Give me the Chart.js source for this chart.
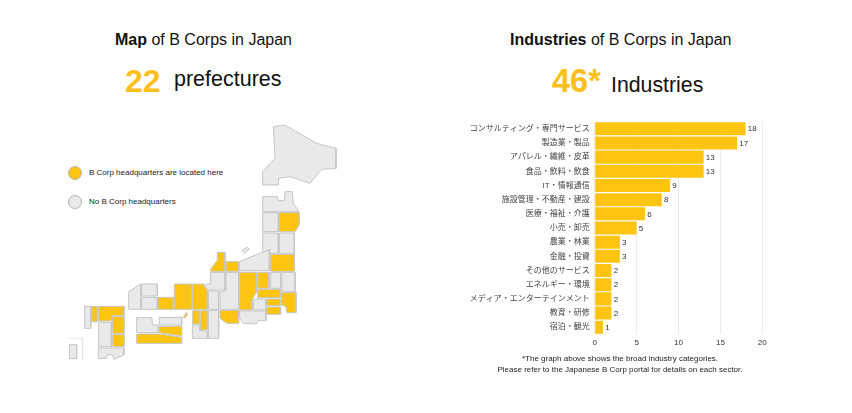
<!DOCTYPE html>
<html>
<head>
<meta charset="utf-8">
<script src="https://cdn.jsdelivr.net/npm/chart.js@4"></script>
<style>
  html,body{margin:0;padding:0;background:#fff;width:852px;height:413px;overflow:hidden;font-family:"Liberation Sans","Noto Sans CJK JP",sans-serif;color:#111}
  .abs{position:absolute;white-space:nowrap}
  canvas{position:absolute;display:block}
  .dot{position:absolute;width:12px;height:12px;border-radius:50%;border:1px solid #b5b5b5}
</style>
</head>
<body>
<div class="abs" style="left:115px;top:31px;font-size:16px;line-height:18px"><b>Map</b> of B Corps in Japan</div>
<div class="abs" style="left:125px;top:64px;font-size:32px;line-height:34px;font-weight:bold;color:#fdbf1b">22</div>
<div class="abs" style="left:174px;top:66px;font-size:21.5px;line-height:26px">prefectures</div>

<div class="abs" style="left:510px;top:31px;font-size:16px;line-height:18px"><b>Industries</b> of B Corps in Japan</div>
<div class="abs" style="left:552px;top:64px;font-size:32.5px;line-height:34px;font-weight:bold;color:#fdbf1b">46*</div>
<div class="abs" style="left:611px;top:72px;font-size:21.3px;line-height:26px">Industries</div>

<div class="dot" style="left:68px;top:166px;background:#fdc412"></div>
<div class="abs" style="left:89px;top:168px;font-size:8px;line-height:10px;color:#222">B Corp headquarters are located here</div>
<div class="dot" style="left:68px;top:195px;background:#e9e9e9"></div>
<div class="abs" style="left:89px;top:197px;font-size:8px;line-height:10px;color:#222">No B Corp headquarters</div>

<canvas id="mapChart" width="300" height="270" style="left:40px;top:110px"></canvas>
<canvas id="barChart" width="340" height="240" style="left:450px;top:115px"></canvas>

<div class="abs" style="left:450px;width:340px;top:353px;text-align:center;font-size:8px;line-height:11px;color:#222;white-space:normal">*The graph above shows the broad industry categories.<br>Please refer to the Japanese B Corp portal for details on each sector.</div>

<script>
// industries bar chart
const industries = ['コンサルティング・専門サービス','製造業・製品','アパレル・繊維・皮革','食品・飲料・飲食','IT・情報通信','施設管理・不動産・建設','医療・福祉・介護','小売・卸売','農業・林業','金融・投資','その他のサービス','エネルギー・環境','メディア・エンターテインメント','教育・研修','宿泊・観光']
const counts = [18,17,13,13,9,8,6,5,3,3,2,2,2,2,1]
const xTicks = [0,5,10,15,20]

// map outlines, in map units (900 x 810 for the whole map area)
const hokkaido = [[700,50],[735,45],[830,100],[888,115],[888,175],[845,178],[810,220],[750,200],[717,205],[715,225],[668,225],[668,185],[705,145]]
const grayPrefs = [
  hokkaido,
  [[668,260],[712,260],[715,272],[733,272],[735,245],[757,245],[760,280],[777,305],[668,305]],
  [[668,308],[715,308],[715,365],[668,365]],
  [[668,369],[715,369],[715,430],[692,430],[690,418],[668,427]],
  [[718,369],[763,369],[763,430],[718,430]],
  [[598,455],[688,418],[688,482],[598,482]],
  [[607,420],[622,412],[628,418],[613,430]],
  [[512,487],[555,487],[555,540],[505,540],[490,527],[510,520]],
  [[558,487],[596,487],[596,598],[540,598],[540,545],[558,543]],
  [[692,487],[722,487],[722,535],[692,535]],
  [[726,487],[765,487],[765,545],[726,545]],
  [[640,567],[677,567],[677,600],[640,600]],
  [[599,603],[678,603],[678,632],[655,632],[648,642],[610,640],[599,625]],
  [[505,543],[536,543],[536,598],[505,598]],
  [[505,601],[536,601],[536,685],[505,685]],
  [[305,522],[352,522],[352,558],[305,558]],
  [[305,562],[352,562],[352,598],[305,598]],
  [[266,545],[302,522],[302,598],[266,598]],
  [[457,645],[480,645],[480,662],[502,664],[502,685],[457,685]],
  [[290,623],[335,623],[338,645],[355,645],[355,668],[290,668]],
  [[358,622],[425,622],[425,645],[358,645]],
  [[134,589],[152,589],[152,655],[134,655]],
  [[176,637],[214,637],[214,710],[176,710]],
  [[175,714],[252,714],[252,735],[222,748],[218,735],[202,733],[200,745],[175,745]],
  [[88,704],[110,704],[110,746],[88,746]]
]
const yellowPrefs = [
  [[718,308],[778,308],[778,345],[765,365],[718,365]],
  [[692,433],[763,433],[763,484],[692,484]],
  [[532,427],[555,427],[555,484],[512,484],[512,478],[532,450]],
  [[558,455],[596,455],[596,484],[558,484]],
  [[599,487],[650,487],[650,545],[636,570],[636,600],[599,600]],
  [[653,487],[687,487],[687,535],[653,535]],
  [[653,538],[722,538],[722,563],[653,563]],
  [[725,548],[768,548],[768,608],[740,608],[738,590],[725,585]],
  [[680,567],[722,567],[722,587],[680,587]],
  [[680,591],[722,591],[722,613],[680,613]],
  [[540,601],[596,601],[596,640],[560,640],[540,625]],
  [[458,522],[490,522],[502,540],[502,598],[458,598]],
  [[403,522],[455,522],[455,598],[403,598]],
  [[354,562],[400,562],[400,598],[354,598]],
  [[458,602],[478,602],[478,642],[458,642]],
  [[482,602],[502,602],[502,660],[482,660]],
  [[430,622],[440,606],[442,615],[435,624]],
  [[358,650],[425,648],[425,678],[358,668]],
  [[290,672],[360,672],[425,682],[425,700],[290,700]],
  [[155,589],[172,589],[172,635],[155,635]],
  [[176,589],[252,589],[252,617],[217,617],[217,633],[176,633]],
  [[218,620],[252,620],[252,670],[218,670]],
  [[218,674],[252,674],[252,710],[218,710]]
]
const okinawaFrame = [[85,685],[128,685],[128,748]]

const YELLOW = '#fdc412'
const GRAY = '#e9e9e9'
const FONT = '"Liberation Sans","Noto Sans CJK JP",sans-serif'

function toPoints(shape){
  const pts = shape.map(p=> ({x:p[0], y:p[1]}))
  pts.push(pts[0]) // close it
  return pts
}
function prefDataset(shape, color){
  return {
    data: toPoints(shape), showLine:true, fill:false, tension:0, areaColor:color,
    borderColor:'#c6c6c6', borderWidth:1, borderJoinStyle:'round', pointRadius:0
  }
}

// fill each closed line, the filler plugin cuts these shapes up
const fillShapes = {
  id:'fillShapes',
  beforeDatasetDraw(chart, args){
    const ds = chart.data.datasets[args.index]
    if(!ds.areaColor) return
    const ctx = chart.ctx
    ctx.save()
    ctx.beginPath()
    args.meta.data.forEach((pt,i)=>{
      if(i===0) ctx.moveTo(pt.x, pt.y)
      else ctx.lineTo(pt.x, pt.y)
    })
    ctx.closePath()
    ctx.fillStyle = ds.areaColor
    ctx.fill()
    ctx.restore()
  }
}

new Chart(document.getElementById('mapChart'), {
  type:'scatter',
  data:{
    datasets:[
      ...grayPrefs.map(s=> prefDataset(s, GRAY)),
      ...yellowPrefs.map(s=> prefDataset(s, YELLOW)),
      {data: okinawaFrame.map(p=> ({x:p[0], y:p[1]})), showLine:true, fill:false, borderColor:'#e6e6e6', borderWidth:1, pointRadius:0}
    ]
  },
  plugins:[fillShapes],
  options:{
    responsive:false, animation:false, clip:false,
    layout:{padding:0},
    plugins:{legend:{display:false}, tooltip:{enabled:false}},
    scales:{
      x:{type:'linear', min:0, max:900, display:false},
      y:{type:'linear', min:0, max:810, reverse:true, display:false}
    }
  }
})

// value at the end of each bar
const barValues = {
  id:'barValues',
  afterDatasetsDraw(chart){
    const ctx = chart.ctx
    ctx.save()
    ctx.font = '8px ' + FONT
    ctx.fillStyle = '#333'
    ctx.textBaseline = 'middle'
    chart.getDatasetMeta(0).data.forEach((bar,i)=>{
      ctx.fillText(counts[i], bar.x + 2.2, bar.y + 0.5)
    })
    ctx.restore()
  }
}

new Chart(document.getElementById('barChart'), {
  type:'bar',
  data:{
    labels: industries,
    datasets:[{data:counts, backgroundColor:YELLOW, categoryPercentage:1, barPercentage:0.92}]
  },
  plugins:[barValues],
  options:{
    indexAxis:'y', responsive:false, animation:false,
    layout:{padding:{top:6.7, right:27.7, left:0, bottom:0}},
    plugins:{legend:{display:false}, tooltip:{enabled:false}},
    scales:{
      x:{
        min:0, max:20,
        afterFit(a){ a.height = 20.7; a.paddingLeft = 0; a.paddingRight = 0 },
        afterBuildTicks(a){ a.ticks = xTicks.map(v=> ({value:v})) },
        grid:{color:'#ececec', drawTicks:false},
        border:{display:false},
        ticks:{font:{size:8, family:FONT}, color:'#333', padding:4, maxRotation:0}
      },
      y:{
        afterFit(a){ a.width = 144.7; a.paddingTop = 0; a.paddingBottom = 0 },
        grid:{display:false, drawTicks:false},
        border:{display:false},
        ticks:{font:{size:8, family:FONT}, color:'#444', padding:5, autoSkip:false}
      }
    }
  }
})
</script>
</body>
</html>
